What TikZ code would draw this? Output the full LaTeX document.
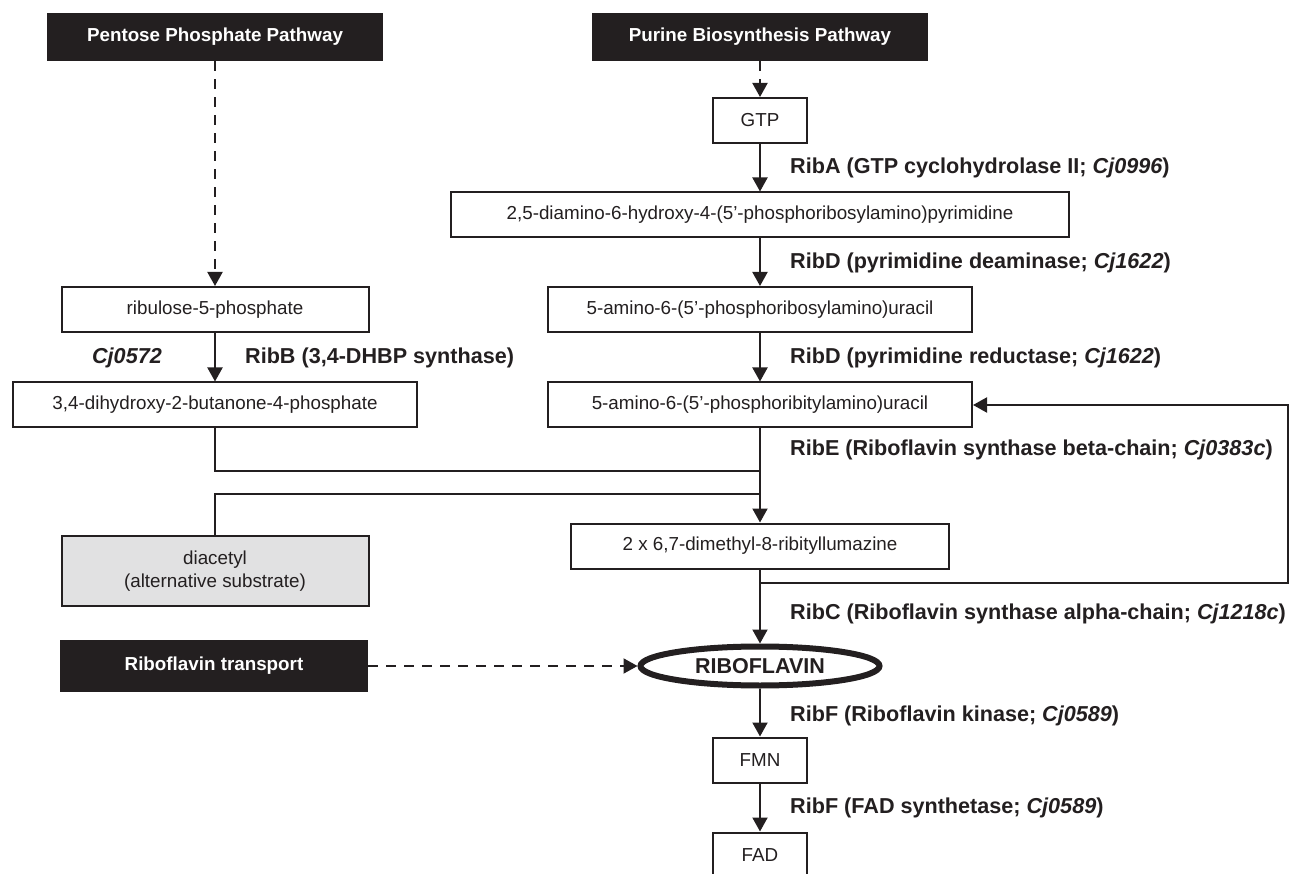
\documentclass[tikz,border=0pt]{standalone}
\usepackage{fontspec}
\setmainfont{Liberation Sans}
\usetikzlibrary{arrows.meta, shapes.geometric}
\definecolor{ink}{HTML}{231F20}
\definecolor{altgray}{HTML}{E1E1E2}
\tikzset{% 
	>={Triangle[width = 15pt, length = 14pt]},
	link/.style = {line width = 2pt, draw = ink},
	every edge/.append style = {link},
	cmpd/.style = {name = #1, rectangle, draw = ink, line width = 2pt, fill = white, text = ink, inner sep = 0pt, minimum height = 45pt, align = center, font = \fontsize{18.8}{22.5}\selectfont},
	src/.style = {name = #1, rectangle, fill = ink, text = white, inner sep = 0pt, minimum height = 48pt, font = \fontsize{18.8}{22.5}\selectfont\bfseries},
	prod/.style = {name = #1, ellipse, draw = ink, line width = 6pt, fill = white, text = ink, inner sep = 0pt, minimum width = 239pt, minimum height = 39pt, font = \fontsize{21.5}{26}\selectfont\bfseries},
	enz/.style = {anchor = west, inner sep = 0pt, text = ink, font = \fontsize{21.6}{26}\selectfont\bfseries},
	feed/.style = {dash pattern = on 10pt off 8pt}
}

\begin{document}
\begin{tikzpicture}[x = 1pt, y = -1pt]
			\useasboundingbox (0,0) rectangle (1291,874);
			\clip (0,0) rectangle (1291,874);
			\node [src = {ppp}, minimum width = 336pt] at (215,37) {Pentose Phosphate Pathway};
			\node [src = {pbp}, minimum width = 336pt] at (760,37) {Purine Biosynthesis Pathway};
			\node [cmpd = {gtp}, minimum width = 94pt] at (760,120.5) {GTP};
			\node [cmpd = {dhp}, minimum width = 618pt] at (760,215) {2,5-diamino-6-hydroxy-4-(5’-phosphoribosylamino)pyrimidine};
			\node [cmpd = {arp}, minimum width = 424pt] at (760,309.5) {5-amino-6-(5’-phosphoribosylamino)uracil};
			\node [cmpd = {aru}, minimum width = 424pt] at (760,405) {5-amino-6-(5’-phosphoribitylamino)uracil};
			\node [cmpd = {r5p}, minimum width = 307pt] at (215,309.5) {ribulose-5-phosphate};
			\node [cmpd = {dbp}, minimum width = 404pt] at (215,405) {3,4-dihydroxy-2-butanone-4-phosphate};
			\node [cmpd = {dia}, fill = altgray, minimum width = 307pt, minimum height = 70pt] at (215,571) {diacetyl\\(alternative substrate)};
			\node [cmpd = {dmrl}, minimum width = 378pt] at (760,546) {2 x 6,7-dimethyl-8-ribityllumazine};
			\node [prod = {rf}] at (760,666) {RIBOFLAVIN};
			\node [src = {rft}, minimum width = 308pt, minimum height = 52pt] at (214,666) {Riboflavin transport};
			\node [cmpd = {fmn}, minimum width = 94pt] at (760,760) {FMN};
			\node [cmpd = {fad}, minimum width = 94pt] at (760,855) {FAD};
			\coordinate (j1) at (760,471);
			\coordinate (j2) at (760,494);
			\coordinate (fb) at (760,583);
			\coordinate (fbr) at (1288,583);
			\node [enz] (ribA) at (790,168) {RibA (GTP cyclohydrolase II; \textit{Cj0996})};
			\node [enz] (ribD1) at (790,263) {RibD (pyrimidine deaminase; \textit{Cj1622})};
			\node [enz] (ribD2) at (790,358) {RibD (pyrimidine reductase; \textit{Cj1622})};
			\node [enz] (ribB) at (245,358) {RibB (3,4-DHBP synthase)};
			\node [enz, anchor = east] (cj0572) at (162,358) {\textit{Cj0572}};
			\node [enz] (ribE) at (790,450) {RibE (Riboflavin synthase beta-chain; \textit{Cj0383c})};
			\node [enz] (ribC) at (790,614) {RibC (Riboflavin synthase alpha-chain; \textit{Cj1218c})};
			\node [enz] (ribF1) at (790,716) {RibF (Riboflavin kinase; \textit{Cj0589})};
			\node [enz] (ribF2) at (790,808) {RibF (FAD synthetase; \textit{Cj0589})};
			\path [->, feed] (ppp) edge (r5p);
			\path [->, feed] (pbp) edge (gtp);
			\path [->, feed] (rft) edge (rf);
			\path [->] (gtp) edge (dhp);
			\path [->] (dhp) edge (arp);
			\path [->] (arp) edge (aru);
			\path [->] (r5p) edge (dbp);
			\path [->] (aru) edge (dmrl);
			\path [->] (dmrl) edge (rf);
			\path [->] (rf) edge (fmn);
			\path [->] (fmn) edge (fad);
			\draw [link] (dbp) |- (j1);
			\draw [link] (dia) |- (j2);
			\draw [link, ->] (fb) -- (fbr) |- (aru);
			\end{tikzpicture}
\end{document}
